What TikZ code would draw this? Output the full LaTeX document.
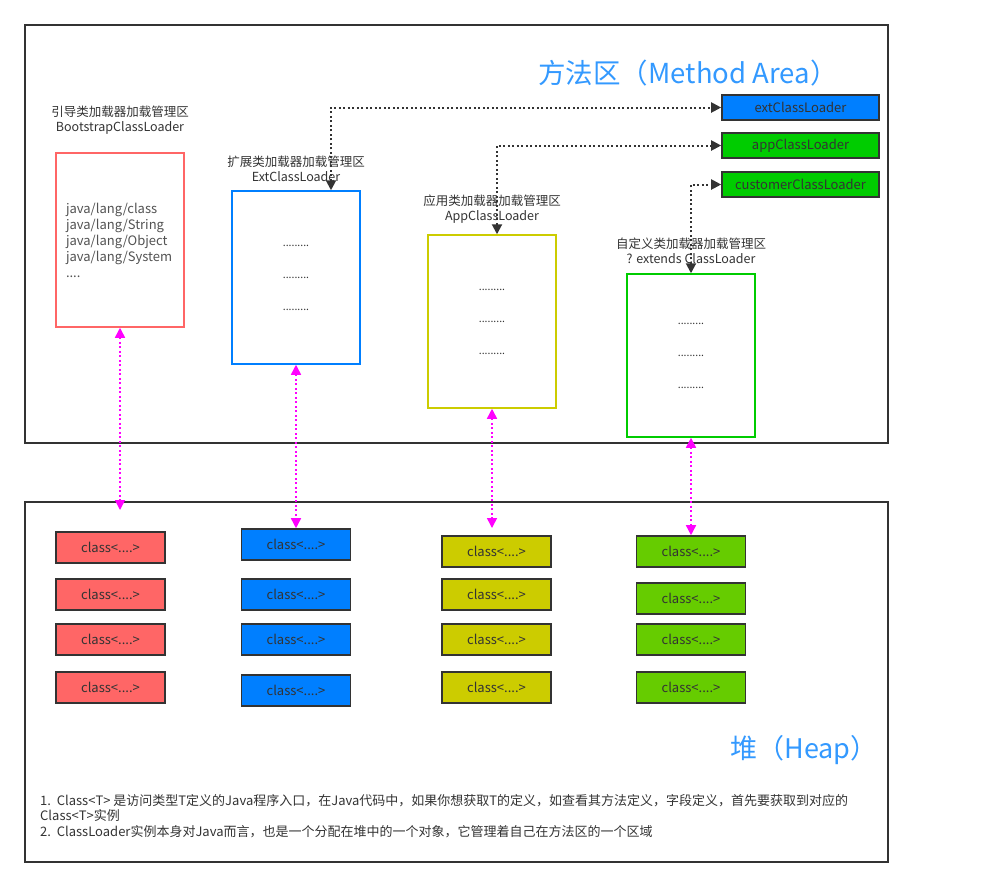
\documentclass[tikz,border=0pt]{standalone}
\usepackage{fontspec}
\setmainfont{Noto Sans CJK SC}
\usetikzlibrary{arrows.meta}
\definecolor{areablue}{HTML}{3399FF}
\definecolor{bootred}{HTML}{FF6666}
\definecolor{extblue}{HTML}{007FFF}
\definecolor{appyellow}{HTML}{CCCC00}
\definecolor{custgreen}{HTML}{00CC00}
\definecolor{heapgreen}{HTML}{66CC00}
\definecolor{linkpink}{HTML}{FF00FF}
\definecolor{txt}{HTML}{333333}
\tikzset{
  frame/.style={draw=txt,line width=1.5pt},
  region/.style={draw=#1,line width=1.5pt,minimum width=128pt,minimum height=174pt,inner sep=0pt,align=center,text=txt,font=\fontsize{10.5}{32}\selectfont},
  lbl/.style={align=center,text=txt,inner sep=0pt,font=\fontsize{12.5}{15.5}\selectfont},
  loader/.style={draw=txt,fill=#1,line width=1.6pt,minimum width=157pt,minimum height=25pt,inner sep=0pt,text=txt,font=\fontsize{13}{14}\selectfont},
  cls/.style={draw=txt,fill=#1,line width=1.6pt,minimum width=109pt,minimum height=31pt,inner sep=0pt,text=txt,font=\fontsize{13}{14}\selectfont},
  link/.style={draw=txt,line width=2pt,dash pattern=on 2pt off 2.5pt,{Triangle[length=10pt,width=10pt]}-{Triangle[length=10pt,width=10pt]}},
  heaplink/.style={draw=linkpink,line width=1.5pt,dash pattern=on 2pt off 2.5pt,{Triangle[length=10pt,width=10pt]}-{Triangle[length=10pt,width=10pt]}}
}
\begin{document}
\begin{tikzpicture}[x=1pt,y=-1pt]
\useasboundingbox (0,0) rectangle (987,887);
% method area
\draw[frame] (25,25) rectangle (888,443);
\node[text=areablue,font=\fontsize{27.5}{30}\selectfont] (mtitle) at (688,73) {方法区（Method Area）};

\node[lbl] (bootlbl) at (120,120) {引导类加载器加载管理区\\BootstrapClassLoader};
\node[region=bootred,align=left,text width=108pt,font=\fontsize{13}{16}\selectfont,text=txt!85] (boot) at (120,240)
  {java/lang/class\\java/lang/String\\java/lang/Object\\java/lang/System\\....};

\node[lbl] (extlbl) at (296,169) {扩展类加载器加载管理区\\ExtClassLoader};
\node[region=extblue,minimum height=173pt] (ext) at (296,277.5) {.........\\.........\\.........};

\node[lbl] (applbl) at (492,209) {应用类加载器加载管理区\\AppClassLoader};
\node[region=appyellow,minimum height=173pt] (app) at (492,321.5) {.........\\.........\\.........};

\node[lbl] (custlbl) at (691,251) {自定义类加载器加载管理区\\? extends ClassLoader};
\node[region=custgreen,minimum height=163pt] (cust) at (691,355.5) {.........\\.........\\.........};

\node[loader=extblue] (extCL) at (800.5,107.5) {extClassLoader};
\node[loader=custgreen] (appCL) at (800.5,145.5) {appClassLoader};
\node[loader=custgreen] (custCL) at (800.5,184.5) {customerClassLoader};

\draw[link] ([xshift=35pt]ext.north) |- (extCL.west);
\draw[link] ([xshift=5pt]app.north) |- (appCL.west);
\draw[link] (cust.north) |- (custCL.west);

% heap
\draw[frame] (25,502) rectangle (888,862);
\node[text=areablue,font=\fontsize{27}{30}\selectfont] (htitle) at (804,750) {堆（Heap）};

\foreach \y [count=\i] in {547.5,594.5,639.5,687.5}
  \node[cls=bootred] (r\i) at (110.5,\y) {class<....>};
\foreach \y [count=\i] in {544.5,594.5,639.5,690.5}
  \node[cls=extblue] (b\i) at (296,\y) {class<....>};
\foreach \y [count=\i] in {551.5,594.5,639.5,687.5}
  \node[cls=appyellow] (y\i) at (496.5,\y) {class<....>};
\foreach \y [count=\i] in {551.5,598.5,639.5,687.5}
  \node[cls=heapgreen] (g\i) at (691,\y) {class<....>};

\coordinate (bootend) at (120,510);
\coordinate (append) at (492,528);
\draw[heaplink] (boot.south) -- (bootend);
\draw[heaplink] (ext.south) -- (b1.north);
\draw[heaplink] (app.south) -- (append);
\draw[heaplink] (cust.south) -- (g1.north);

\node[anchor=north west,align=left,text=txt,inner sep=0pt,font=\fontsize{13}{15.5}\selectfont] (notes) at (40,794)
  {1.\ \ Class<T> 是访问类型T定义的Java程序入口，在Java代码中，如果你想获取T的定义，如查看其方法定义，字段定义，首先要获取到对应的\\
   Class<T>实例\\
   2.\ \ ClassLoader实例本身对Java而言，也是一个分配在堆中的一个对象，它管理着自己在方法区的一个区域};
\end{tikzpicture}
\end{document}
